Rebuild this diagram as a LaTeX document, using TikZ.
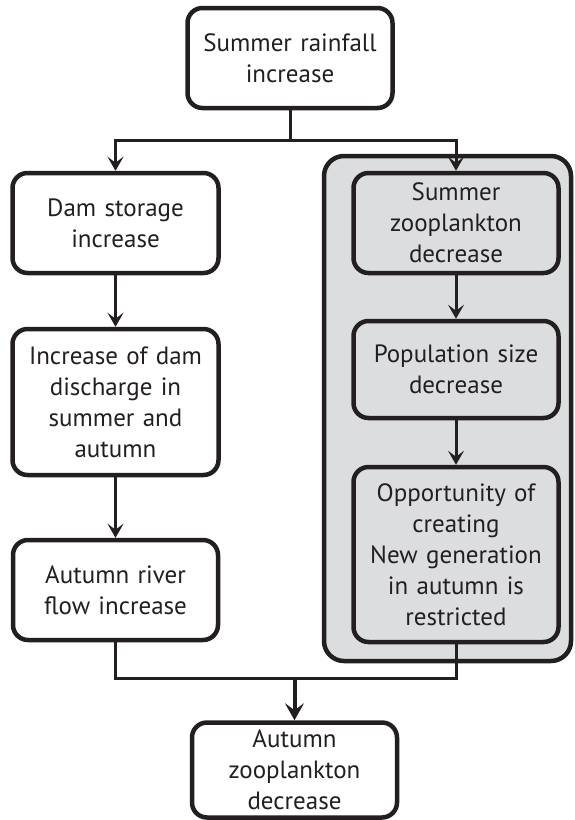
\documentclass[tikz,border=0pt]{standalone}
\usepackage{fontspec}
\setmainfont{PT Sans}
\usetikzlibrary{arrows.meta}
\definecolor{ink}{HTML}{231F20}
\definecolor{panelgray}{HTML}{DCDDDF}
\begin{document}
\begin{tikzpicture}[x=1pt,y=-1pt,
  box/.style={draw=ink,line width=4.5pt,rounded corners=15pt,fill=white,
    minimum width=205pt,text width=200pt,align=center,inner sep=0pt,
    text=ink,font=\fontsize{25}{31}\selectfont},
  gbox/.style={box,fill=panelgray},
  conn/.style={draw=ink,line width=3pt},
  arr/.style={conn,-{Stealth[length=14pt,width=16pt,inset=6pt]}},
  bigarr/.style={draw=ink,line width=4pt,-{Stealth[length=17pt,width=19pt,inset=7pt]}}]
\useasboundingbox (0,0) rectangle (574,820);
\fill[white] (0,0) rectangle (574,820);
% gray panel
\node[draw=ink,line width=4.5pt,rounded corners=20pt,fill=panelgray,
  minimum width=247pt,minimum height=505pt,inner sep=0pt] (panel) at (447.5,408.5) {};
% boxes
\node[box,minimum height=100pt] (top) at (290,58) {Summer rainfall\\increase};
\node[box,minimum height=100pt,minimum width=206pt] (dam) at (115.5,223) {Dam storage\\increase};
\node[box,minimum height=146pt,minimum width=206pt] (incr) at (115.5,402) {Increase of dam\\discharge in\\summer and\\autumn};
\node[box,minimum height=100pt] (river) at (115.5,590) {Autumn river\\flow increase};
\node[box,minimum height=95pt] (bot) at (294.5,770) {Autumn\\zooplankton\\decrease};
\node[gbox,minimum height=100pt] (sz) at (456,223) {Summer\\zooplankton\\decrease};
\node[gbox,minimum height=97pt] (pop) at (456,369.5) {Population size\\decrease};
\node[gbox,minimum height=175pt] (opp) at (456,554.5) {Opportunity of\\creating\\New generation\\in autumn is\\restricted};
% connectors
\coordinate (j1) at (290,140);
\coordinate (j2) at (294.5,678);
\draw[conn] (top.south) -- (j1);
\draw[arr] (j1) -| (dam.north);
\draw[arr] (j1) -| (sz.north);
\draw[arr] (dam.south) -- (incr.north);
\draw[arr] (incr.south) -- (river.north);
\draw[arr] (sz.south) -- (pop.north);
\draw[arr] (pop.south) -- (opp.north);
\draw[conn] (river.south) |- (j2);
\draw[conn] (opp.south) |- (j2);
\draw[bigarr] (j2) -- (bot.north);
\end{tikzpicture}
\end{document}
